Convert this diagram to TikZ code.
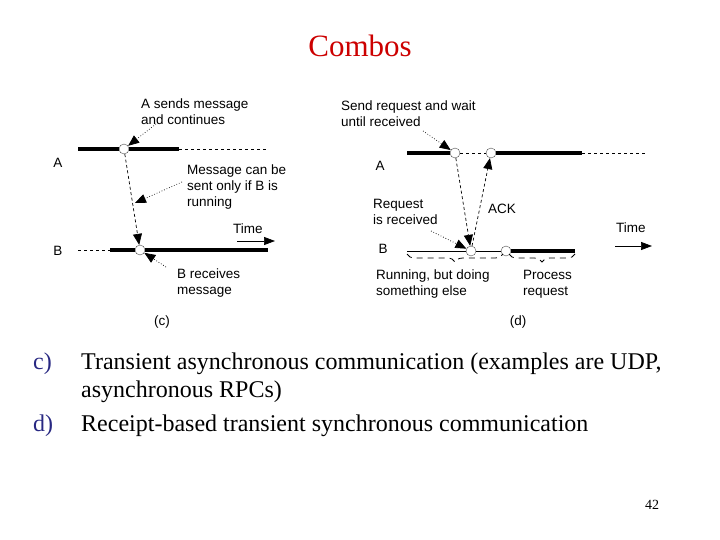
\documentclass[tikz,border=0pt]{standalone}
\usepackage{fontspec}
\setmainfont{Liberation Serif}
\setsansfont{Liberation Sans}
\usetikzlibrary{arrows.meta,decorations.pathreplacing}
\definecolor{titlered}{RGB}{204,0,0}
\definecolor{itemblue}{RGB}{40,40,130}
\tikzset{
  txt/.style={font=\sffamily\fontsize{13.5}{16}\selectfont, align=left, inner sep=0pt, anchor=north west},
  proc/.style={font=\sffamily\fontsize{13.5}{16}\selectfont, inner sep=0pt},
  event/.style={circle, draw=black!70, thin, fill=white, minimum size=10pt, inner sep=0pt},
  busy/.style={line width=3.5pt},
  idle/.style={line width=0.6pt, dashed},
  msg/.style={line width=0.7pt, dash pattern=on 3pt off 2.5pt, -{Triangle[length=11pt,width=9pt]}},
  hint/.style={line width=0.7pt, dotted, -{Triangle[length=11pt,width=9pt]}},
  timearrow/.style={line width=0.7pt, -{Triangle[length=11pt,width=8pt]}},
  brace/.style={line width=0.8pt, dash pattern=on 6pt off 5pt, decorate, decoration={brace, mirror, amplitude=8pt}},
  body/.style={font=\fontsize{24}{28}\selectfont, anchor=base west, inner sep=0pt}
}
\begin{document}
\begin{tikzpicture}[x=1pt,y=1pt]
  \useasboundingbox (0,0) rectangle (720,-540);
  \node[font=\fontsize{31}{36}\selectfont, text=titlered] (title) at (360,-46) {Combos};

  \node[proc] (ca-name) at (58,-163) {A};
  \node[proc] (cb-name) at (58,-251) {B};
  \coordinate (a0) at (78,-149);
  \node[event] (ca) at (124,-149) {};
  \coordinate (a1) at (179,-149);
  \coordinate (a2) at (267,-149);
  \draw[busy] (a0) -- (ca) -- (a1);
  \draw[idle] (a1) -- (a2);
  \coordinate (b0) at (78,-250);
  \coordinate (b1) at (110,-250);
  \node[event] (cb) at (140,-250) {};
  \coordinate (b2) at (268,-250);
  \draw[idle] (b0) -- (b1);
  \draw[busy] (b1) -- (cb) -- (b2);
  \draw[msg] (ca) -- (cb);
  \node[txt] (sendtxt) at (141,-99) {A sends message\\and continues};
  \node[txt] (cantxt) at (187,-165) {Message can be\\sent only if B is\\running};
  \node[txt] (recvtxt) at (177,-269) {B receives\\message};
  \node[txt] (time1) at (233,-224) {Time};
  \coordinate (h1) at (156,-124);
  \coordinate (h2) at (182,-182);
  \coordinate (mmid) at (135,-203);
  \coordinate (h3) at (166,-267);
  \draw[hint] (h1) -- (ca);
  \draw[hint] (h2) -- (mmid);
  \draw[hint] (h3) -- (cb);
  \coordinate (t0) at (237,-241);
  \coordinate (t1) at (275,-241);
  \draw[timearrow] (t0) -- (t1);
  \node[proc] (capc) at (162,-322) {(c)};

  \node[proc] (da-name) at (380,-166) {A};
  \node[proc] (db-name) at (383,-249) {B};
  \coordinate (d0) at (407,-153);
  \node[event] (da1) at (455,-153) {};
  \node[event] (da2) at (491,-153) {};
  \coordinate (d1) at (582,-153);
  \coordinate (d2) at (645,-153);
  \draw[busy] (d0) -- (da1);
  \draw[idle] (da1) -- (da2);
  \draw[busy] (da2) -- (d1);
  \draw[idle] (d1) -- (d2);
  \coordinate (e0) at (407,-251);
  \node[event] (db1) at (471,-251) {};
  \node[event] (db2) at (506,-251) {};
  \coordinate (e1) at (575,-251);
  \draw[line width=0.8pt] (e0) -- (db1) -- (db2);
  \draw[busy] (db2) -- (e1);
  \draw[msg] (da1) -- (db1);
  \draw[msg] (db1) -- (da2);
  \coordinate (r0) at (407,-254);
  \coordinate (r1) at (503,-254);
  \coordinate (r2) at (509,-254);
  \coordinate (r3) at (575,-254);
  \draw[brace] (r0) -- (r1);
  \draw[brace] (r2) -- (r3);
  \node[txt] (reqtxt) at (341,-101) {Send request and wait\\until received};
  \node[txt] (rectxt) at (373,-199) {Request\\is received};
  \node[txt] (ack) at (488,-204) {ACK};
  \node[txt] (runtxt) at (376,-270) {Running, but doing\\something else};
  \node[txt] (proctxt) at (523,-270) {Process\\request};
  \node[txt] (time2) at (616,-223) {Time};
  \coordinate (h4) at (423,-131);
  \coordinate (h5) at (431,-231);
  \draw[hint] (h4) -- (da1);
  \draw[hint] (h5) -- (db1);
  \coordinate (t2) at (615,-246);
  \coordinate (t3) at (652,-246);
  \draw[timearrow] (t2) -- (t3);
  \node[proc] (capd) at (518,-322) {(d)};

  \node[body, text=itemblue] (ic) at (33,-369) {c)};
  \node[body] (tc1) at (81,-369) {Transient asynchronous communication (examples are UDP,};
  \node[body] (tc2) at (81,-397) {asynchronous RPCs)};
  \node[body, text=itemblue] (id) at (33,-431) {d)};
  \node[body] (td) at (81,-431) {Receipt-based transient synchronous communication};
  \node[font=\fontsize{14}{16}\selectfont, anchor=base] (pg) at (652,-509) {42};
\end{tikzpicture}
\end{document}
